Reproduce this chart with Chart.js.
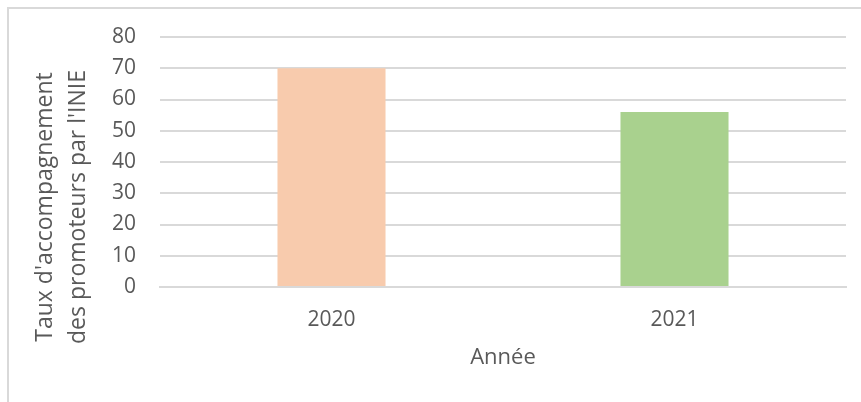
<!DOCTYPE html>
<html><head><meta charset="utf-8">
<script src="https://cdn.jsdelivr.net/npm/chart.js@4"></script>
<style>
html,body{margin:0;padding:0;background:#fff;}
#wrap{position:relative;width:861px;height:402px;overflow:hidden;}
#frame{position:absolute;left:7px;top:7px;width:900px;height:500px;border-left:2px solid #d9d9d9;border-top:2px solid #d9d9d9;}
canvas{position:absolute;left:0;top:0;}
</style></head>
<body>
<div id="wrap"><div id="frame"></div><canvas id="c" width="861" height="402"></canvas></div>
<script>
const categories = ["2020", "2021"];
const values = [70, 56];
const barColors = ["#F8CBAD", "#A9D18E"];
const yTitle = ["Taux d'accompagnement", "des promoteurs par l'INIE"];
const xTitle = "Année";

const font = "'Open Sans', 'Liberation Sans', sans-serif";

const yTitlePlugin = {
  id: 'yTitle',
  afterDraw(chart) {
    const ctx = chart.ctx;
    ctx.save();
    ctx.fillStyle = '#595959';
    ctx.font = "23px " + font;
    ctx.textAlign = 'center';
    ctx.textBaseline = 'middle';
    const xs = [45, 78];
    const cy = 207;
    yTitle.forEach((t, i) => {
      ctx.save();
      ctx.translate(xs[i], cy);
      ctx.rotate(-Math.PI / 2);
      ctx.fillText(t, 0, 0);
      ctx.restore();
    });
    ctx.restore();
  }
};

new Chart(document.getElementById('c'), {
  type: 'bar',
  data: { labels: categories, datasets: [{ data: values, backgroundColor: barColors, barPercentage: 0.315, categoryPercentage: 1 }] },
  options: {
    responsive: false, animation: false,
    layout: { padding: { left: 0, right: 15, top: 37, bottom: 27 } },
    plugins: { legend: { display: false }, tooltip: { enabled: false } },
    scales: {
      x: {
        grid: { display: false, drawTicks: false },
        border: { display: true, color: '#d9d9d9', width: 2 },
        ticks: { color: '#595959', font: { family: font, size: 21 }, padding: 20 },
        title: { display: true, text: xTitle, color: '#595959', font: { family: font, size: 22 }, padding: { top: 0, bottom: 4 } },
        afterFit: s => { s.height = 88; }
      },
      y: {
        min: 0, max: 80,
        grid: { color: '#d9d9d9', lineWidth: 2, drawTicks: false },
        border: { display: false },
        ticks: { stepSize: 10, color: '#595959', font: { family: font, size: 21 }, padding: 24 },
        afterFit: s => { s.width = 160; }
      }
    }
  },
  plugins: [yTitlePlugin]
});
</script>
</body></html>
